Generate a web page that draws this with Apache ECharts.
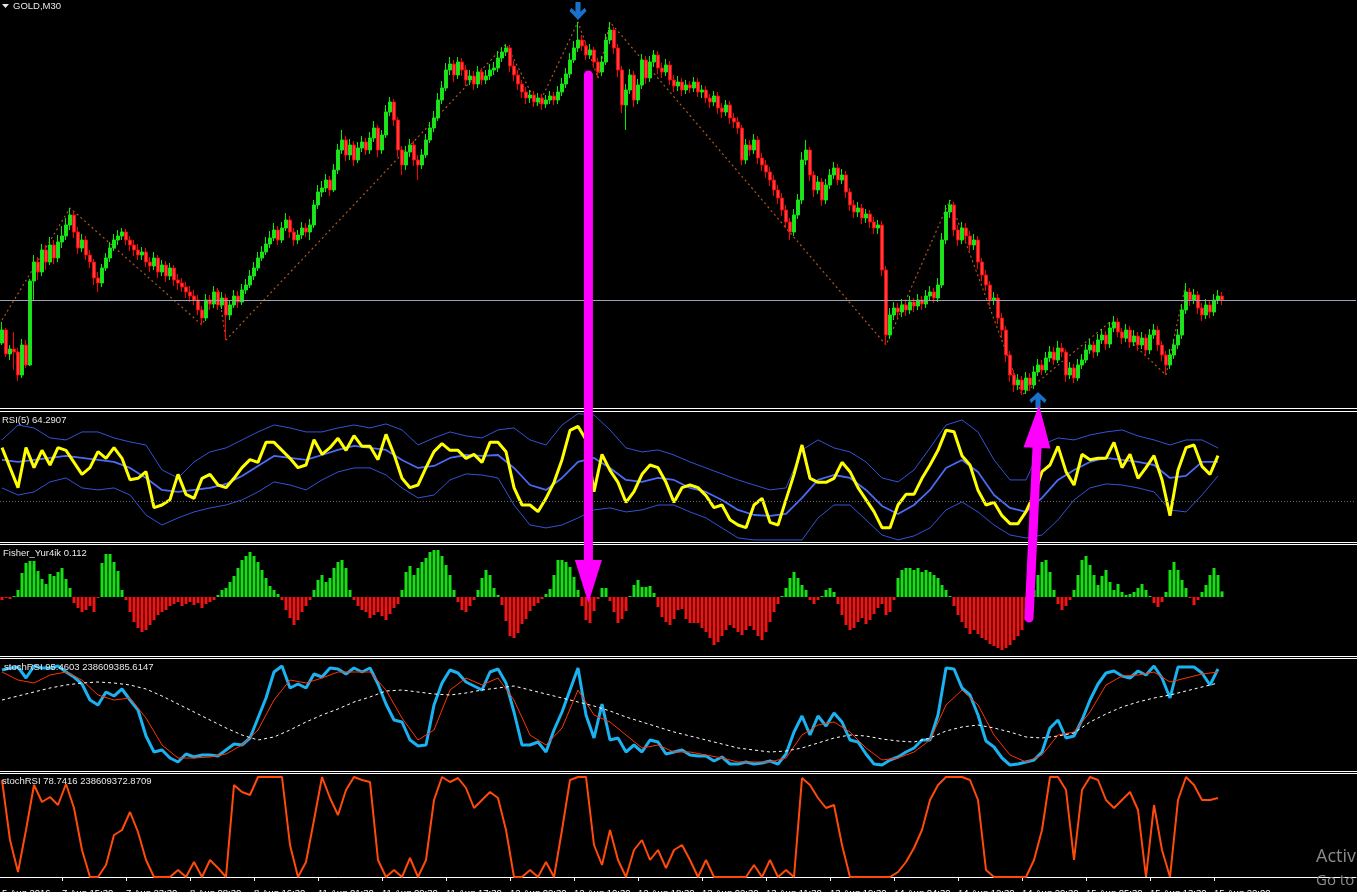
<!DOCTYPE html>
<html><head><meta charset="utf-8">
<script src="https://cdn.jsdelivr.net/npm/echarts/dist/echarts.min.js"></script>
<style>html,body{margin:0;padding:0;background:#000;overflow:hidden}#c{width:1357px;height:892px}</style>
</head><body><div id="c"></div>
<script>
// ---------------- DATA ----------------
const symbolTitle = 'GOLD,M30';
const rsiTitle = 'RSI(5) 64.2907';
const fisherTitle = 'Fisher_Yur4ik 0.112';
const stoch1Title = 'stochRSI 95.4603 238609385.6147';
const stoch2Title = 'stochRSI 78.7416 238609372.8709';

const tickIdx = [0,15,31,47,63,79,95,111,127,143,159,175,191,207,223,239,255,271,287,303];
const tickLabels = ['5 Aug 2016','7 Aug 15:30','7 Aug 23:30','8 Aug 08:30','8 Aug 16:30','11 Aug 01:30','11 Aug 09:30','11 Aug 17:30','12 Aug 02:30','12 Aug 10:30','12 Aug 18:30','13 Aug 02:30','13 Aug 11:30','13 Aug 19:30','14 Aug 04:30','14 Aug 12:30','14 Aug 20:30','15 Aug 05:30','15 Aug 13:30','15 Aug 22:00'];

const opens = [1345.7,1347.0,1344.6,1345.1,1344.8,1342.5,1345.5,1343.5,1351.9,1353.8,
1352.8,1355.0,1353.8,1355.5,1354.2,1355.8,1356.4,1357.5,1358.5,1356.8,
1355.2,1356.0,1354.5,1353.8,1352.2,1351.7,1353.2,1354.2,1355.2,1356.0,
1356.4,1356.8,1356.0,1355.5,1355.0,1354.5,1354.8,1353.8,1353.4,1354.2,
1352.8,1353.5,1352.4,1353.2,1352.0,1351.7,1351.3,1350.8,1350.4,1350.0,
1349.0,1348.2,1350.0,1349.6,1350.8,1349.5,1350.2,1348.5,1349.5,1350.4,
1349.8,1351.0,1351.5,1352.4,1353.2,1354.2,1354.8,1355.6,1356.2,1357.0,
1356.0,1357.2,1358.0,1356.8,1356.0,1356.5,1357.2,1356.8,1357.5,1359.5,
1360.8,1361.2,1362.0,1361.0,1363.0,1365.0,1366.0,1364.5,1365.5,1364.0,
1365.2,1365.8,1365.0,1366.2,1367.2,1365.0,1366.5,1368.8,1369.8,1368.0,
1365.0,1363.5,1364.8,1365.5,1364.0,1363.5,1364.5,1366.0,1367.2,1368.2,
1370.0,1371.2,1373.0,1373.6,1372.5,1373.8,1373.0,1372.0,1372.4,1371.6,
1372.8,1372.0,1372.4,1373.0,1373.2,1374.2,1374.8,1375.2,1373.4,1372.5,
1371.6,1370.8,1370.2,1370.5,1369.8,1370.2,1369.6,1370.0,1370.4,1370.0,
1370.8,1371.6,1372.6,1374.0,1375.2,1376.0,1375.4,1374.5,1375.0,1373.8,
1372.8,1373.8,1376.0,1377.0,1375.2,1373.0,1369.5,1371.0,1372.5,1370.0,
1371.5,1374.0,1372.2,1373.8,1374.5,1373.2,1372.8,1373.5,1372.0,1371.4,
1371.8,1371.0,1371.5,1371.2,1371.8,1370.8,1371.0,1370.2,1369.8,1370.4,
1369.2,1368.8,1369.5,1368.2,1367.8,1367.2,1364.0,1365.5,1365.0,1366.0,
1364.2,1363.5,1362.8,1362.0,1361.0,1360.2,1359.0,1357.8,1356.8,1358.5,
1360.0,1364.0,1365.0,1362.5,1361.0,1361.8,1360.0,1361.5,1362.5,1363.2,
1362.0,1362.5,1360.8,1359.5,1358.8,1359.2,1358.2,1358.6,1357.8,1357.2,
1357.5,1353.0,1346.5,1348.5,1349.2,1348.8,1349.5,1349.0,1349.8,1349.4,
1350.0,1349.6,1350.4,1350.8,1350.2,1351.5,1356.0,1358.8,1359.5,1357.0,
1356.0,1357.2,1356.4,1355.5,1356.0,1353.8,1352.5,1351.5,1350.0,1350.2,
1348.2,1347.0,1344.5,1342.5,1341.5,1342.0,1341.0,1342.2,1341.5,1342.8,
1343.5,1343.0,1344.2,1344.8,1344.0,1345.2,1344.8,1342.5,1343.2,1342.2,
1343.5,1344.0,1345.0,1345.5,1344.8,1346.0,1346.5,1345.6,1347.2,1347.8,
1346.8,1346.2,1347.0,1345.8,1346.4,1345.5,1346.2,1345.0,1346.5,1347.0,
1345.5,1344.5,1343.5,1344.5,1345.5,1346.5,1349.0,1350.8,1350.0,1350.5,
1349.2,1348.5,1349.5,1348.8,1350.0,1350.4];

const closes = [1347.0,1344.6,1345.1,1344.8,1342.5,1345.5,1343.5,1351.9,1353.8,1352.8,
1355.0,1353.8,1355.5,1354.2,1355.8,1356.4,1357.5,1358.5,1356.8,1355.2,
1356.0,1354.5,1353.8,1352.2,1351.7,1353.2,1354.2,1355.2,1356.0,1356.4,
1356.8,1356.0,1355.5,1355.0,1354.5,1354.8,1353.8,1353.4,1354.2,1352.8,
1353.5,1352.4,1353.2,1352.0,1351.7,1351.3,1350.8,1350.4,1350.0,1349.0,
1348.2,1350.0,1349.6,1350.8,1349.5,1350.2,1348.5,1349.5,1350.4,1349.8,
1351.0,1351.5,1352.4,1353.2,1354.2,1354.8,1355.6,1356.2,1357.0,1356.0,
1357.2,1358.0,1356.8,1356.0,1356.5,1357.2,1356.8,1357.5,1359.5,1360.8,
1361.2,1362.0,1361.0,1363.0,1365.0,1366.0,1364.5,1365.5,1364.0,1365.2,
1365.8,1365.0,1366.2,1367.2,1365.0,1366.5,1368.8,1369.8,1368.0,1365.0,
1363.5,1364.8,1365.5,1364.0,1363.5,1364.5,1366.0,1367.2,1368.2,1370.0,
1371.2,1373.0,1373.6,1372.5,1373.8,1373.0,1372.0,1372.4,1371.6,1372.8,
1372.0,1372.4,1373.0,1373.2,1374.2,1374.8,1375.2,1373.4,1372.5,1371.6,
1370.8,1370.2,1370.5,1369.8,1370.2,1369.6,1370.0,1370.4,1370.0,1370.8,
1371.6,1372.6,1374.0,1375.2,1376.0,1375.4,1374.5,1375.0,1373.8,1372.8,
1373.8,1376.0,1377.0,1375.2,1373.0,1369.5,1371.0,1372.5,1370.0,1371.5,
1374.0,1372.2,1373.8,1374.5,1373.2,1372.8,1373.5,1372.0,1371.4,1371.8,
1371.0,1371.5,1371.2,1371.8,1370.8,1371.0,1370.2,1369.8,1370.4,1369.2,
1368.8,1369.5,1368.2,1367.8,1367.2,1364.0,1365.5,1365.0,1366.0,1364.2,
1363.5,1362.8,1362.0,1361.0,1360.2,1359.0,1357.8,1356.8,1358.5,1360.0,
1364.0,1365.0,1362.5,1361.0,1361.8,1360.0,1361.5,1362.5,1363.2,1362.0,
1362.5,1360.8,1359.5,1358.8,1359.2,1358.2,1358.6,1357.8,1357.2,1357.5,
1353.0,1346.5,1348.5,1349.2,1348.8,1349.5,1349.0,1349.8,1349.4,1350.0,
1349.6,1350.4,1350.8,1350.2,1351.5,1356.0,1358.8,1359.5,1357.0,1356.0,
1357.2,1356.4,1355.5,1356.0,1353.8,1352.5,1351.5,1350.0,1350.2,1348.2,
1347.0,1344.5,1342.5,1341.5,1342.0,1341.0,1342.2,1341.5,1342.8,1343.5,
1343.0,1344.2,1344.8,1344.0,1345.2,1344.8,1342.5,1343.2,1342.2,1343.5,
1344.0,1345.0,1345.5,1344.8,1346.0,1346.5,1345.6,1347.2,1347.8,1346.8,
1346.2,1347.0,1345.8,1346.4,1345.5,1346.2,1345.0,1346.5,1347.0,1345.5,
1344.5,1343.5,1344.5,1345.5,1346.5,1349.0,1350.8,1350.0,1350.5,1349.2,
1348.5,1349.5,1348.8,1350.0,1350.4,1350.0];

const highs = [1347.8,1347.2,1345.5,1346.8,1345.2,1346.1,1346.0,1352.1,1354.5,1354.3,
1355.6,1355.5,1356.3,1356.0,1356.5,1357.4,1358.2,1359.2,1358.9,1357.3,
1356.6,1356.4,1355.0,1354.1,1352.8,1353.6,1354.7,1355.8,1356.6,1357.0,
1357.2,1357.1,1356.4,1356.0,1355.6,1355.3,1355.2,1354.3,1354.8,1354.5,
1354.0,1353.9,1353.7,1353.5,1352.6,1352.2,1351.8,1351.4,1351.0,1350.5,
1349.4,1350.6,1350.5,1351.4,1351.2,1350.8,1350.6,1350.0,1351.0,1350.9,
1351.6,1352.1,1353.0,1353.8,1354.8,1355.4,1356.3,1356.9,1357.7,1357.4,
1357.8,1358.7,1358.4,1357.2,1357.0,1357.8,1357.7,1358.1,1360.0,1361.5,
1361.9,1362.6,1362.4,1363.6,1365.6,1367.0,1366.4,1366.1,1365.9,1365.8,
1366.4,1366.2,1366.8,1367.9,1367.5,1367.0,1369.5,1370.3,1370.1,1368.3,
1365.4,1365.4,1366.1,1365.9,1364.5,1365.1,1366.6,1367.8,1368.9,1370.7,
1371.9,1373.7,1374.3,1374.0,1374.3,1374.2,1373.5,1373.0,1372.9,1373.4,
1373.2,1373.0,1373.6,1373.8,1374.9,1375.3,1375.6,1375.5,1373.9,1373.0,
1372.0,1371.3,1371.0,1370.9,1370.7,1370.6,1370.5,1370.9,1370.8,1371.4,
1372.2,1373.2,1374.7,1375.9,1377.8,1376.5,1375.8,1375.6,1375.3,1374.2,
1374.4,1376.6,1377.8,1377.3,1375.6,1373.4,1371.6,1373.1,1372.9,1372.1,
1374.6,1374.4,1374.4,1375.0,1374.9,1373.7,1374.1,1373.9,1372.5,1372.4,
1372.2,1372.0,1371.9,1372.3,1372.2,1371.5,1371.4,1370.6,1370.9,1370.8,
1369.7,1370.0,1369.9,1368.7,1368.3,1367.5,1366.1,1366.0,1366.6,1366.4,
1364.7,1364.0,1363.3,1362.5,1361.5,1360.7,1359.5,1358.2,1359.1,1360.6,
1364.8,1366.0,1365.3,1362.9,1362.4,1362.2,1362.1,1363.1,1363.8,1363.6,
1363.1,1362.9,1361.2,1360.0,1359.8,1359.6,1359.1,1359.0,1358.3,1358.0,
1357.9,1353.4,1349.2,1349.8,1349.7,1350.1,1349.9,1350.4,1350.2,1350.6,
1350.4,1351.0,1351.4,1351.2,1352.2,1356.7,1359.5,1360.0,1359.8,1357.5,
1357.8,1357.7,1356.9,1356.6,1356.4,1354.2,1353.0,1351.9,1350.8,1350.6,
1348.7,1347.4,1344.9,1343.0,1342.6,1342.4,1342.8,1342.7,1343.4,1344.1,
1344.0,1344.8,1345.4,1345.3,1345.9,1345.7,1345.1,1343.8,1343.6,1344.1,
1344.6,1345.6,1346.1,1345.9,1346.6,1347.1,1346.9,1347.8,1348.4,1348.2,
1347.2,1347.6,1347.4,1347.0,1346.8,1346.8,1346.6,1347.1,1347.6,1347.4,
1345.9,1344.9,1345.1,1346.1,1347.1,1349.6,1351.7,1351.2,1351.1,1350.9,
1349.7,1350.1,1349.9,1350.6,1351.0,1350.8];

const lows = [1345.5,1344.3,1344.0,1343.0,1341.9,1342.2,1343.2,1343.4,1350.0,1352.0,
1352.4,1353.0,1353.5,1353.6,1353.8,1355.2,1356.0,1357.0,1356.2,1354.6,
1354.8,1354.0,1353.2,1351.5,1350.8,1351.3,1352.9,1353.8,1354.9,1355.5,
1356.0,1355.5,1354.9,1354.4,1354.0,1354.0,1353.3,1352.8,1353.0,1352.2,
1352.4,1351.8,1352.0,1351.4,1351.0,1350.8,1350.2,1349.8,1349.5,1348.5,
1347.5,1347.9,1349.0,1349.2,1349.0,1349.1,1346.0,1348.0,1349.2,1349.2,
1349.5,1350.6,1351.2,1352.0,1352.9,1353.9,1354.5,1355.2,1355.9,1355.5,
1355.7,1356.9,1356.2,1355.4,1355.6,1356.1,1356.3,1356.0,1357.2,1359.1,
1360.3,1360.8,1360.4,1360.8,1362.6,1364.6,1363.9,1364.0,1363.4,1363.7,
1364.8,1364.5,1364.6,1365.8,1364.3,1364.6,1366.2,1368.4,1367.4,1364.3,
1362.5,1363.0,1364.3,1363.4,1362.0,1363.1,1364.2,1365.7,1366.8,1367.9,
1369.6,1370.9,1372.5,1371.8,1372.1,1372.4,1371.4,1371.5,1371.0,1371.2,
1371.5,1371.6,1372.0,1372.5,1372.8,1373.8,1374.4,1372.8,1371.9,1371.0,
1370.2,1369.6,1369.7,1369.3,1369.4,1369.0,1369.2,1369.6,1369.5,1369.6,
1370.4,1371.2,1372.2,1373.7,1374.8,1374.9,1374.0,1374.1,1373.2,1372.2,
1372.4,1373.5,1375.6,1374.6,1372.3,1368.7,1367.0,1370.6,1369.3,1369.6,
1371.1,1371.6,1371.8,1373.3,1372.6,1372.2,1372.4,1371.5,1370.8,1370.9,
1370.4,1370.6,1370.7,1370.8,1370.3,1370.2,1369.7,1369.2,1369.4,1368.6,
1368.2,1368.4,1367.6,1367.2,1366.6,1363.5,1363.6,1364.4,1364.6,1363.6,
1362.9,1362.2,1361.4,1360.4,1359.6,1358.4,1357.2,1356.0,1356.4,1358.1,
1359.6,1363.5,1361.9,1360.3,1360.6,1359.4,1359.6,1361.1,1362.1,1361.5,
1361.6,1360.2,1358.9,1358.2,1358.3,1357.6,1357.7,1357.2,1356.6,1356.6,
1352.4,1345.5,1346.1,1348.0,1348.2,1348.3,1348.4,1348.6,1348.8,1349.0,
1349.0,1349.2,1350.0,1349.7,1349.8,1351.2,1355.6,1358.2,1356.4,1355.4,
1355.6,1355.8,1354.9,1355.0,1353.1,1351.9,1350.9,1349.4,1349.5,1347.6,
1346.2,1343.8,1341.8,1340.8,1341.0,1340.5,1340.6,1340.9,1341.1,1342.4,
1342.5,1342.7,1343.8,1343.5,1343.7,1344.3,1341.8,1342.1,1341.7,1341.9,
1343.1,1343.7,1344.6,1344.2,1344.4,1345.6,1345.0,1345.2,1346.8,1346.3,
1345.6,1345.8,1345.2,1345.4,1344.9,1345.1,1344.4,1344.6,1346.1,1344.9,
1343.9,1342.5,1343.1,1344.1,1345.1,1346.1,1348.6,1349.4,1349.6,1348.6,
1347.9,1348.1,1348.2,1348.4,1349.6,1349.5];

// ZigZag vertices (bar index, price)
const zigzagIdx = [0,17,50,54,56,126,134,144,149,152,221,237,255,277,291,296];
const zigzagVal = [1348.0,1359.2,1347.5,1351.2,1346.0,1375.6,1369.4,1377.8,1372.2,1377.8,1345.5,1360.0,1340.5,1347.8,1342.5,1351.7];
// signal arrows (bar index)
const sellArrowIdx = [144];
const buyArrowIdx = [259];

// RSI(5), read every 2nd bar
const rsiStep = 2;
const rsiVals = [70,55,40,70,55,68,57,70,68,59,50,55,67,62,70,62,46,47,52,25,
27,31,50,35,32,47,50,42,40,47,55,61,59,74,74,68,62,55,57,76,
65,70,77,68,79,71,71,61,80,65,47,40,42,55,67,73,68,68,62,65,
59,74,74,67,40,27,27,22,32,44,61,83,86,76,37,65,53,44,29,37,
50,57,55,44,29,40,42,40,34,25,27,16,12,10,27,32,14,12,31,50,
72,47,44,44,47,59,52,40,31,22,10,10,27,35,35,47,57,68,83,82,
64,57,38,27,29,19,13,13,22,35,52,57,71,52,42,65,61,62,62,74,
55,65,47,55,64,46,19,53,70,72,56,50,64];
const rsiLevel = 30;
// RSI bands, read every 4th bar
const bandStep = 4;
const rsiMid = [60.8,59.3,60.8,62.3,63.8,62.3,60.8,59.3,54.8,47.3,38.3,36.8,38.3,39.8,42.8,48.8,56.3,63.8,62.3,60.8,
64.5,68.3,71.3,69.8,68.3,60.8,54.8,56.3,62.3,64.5,63.8,64.5,54.8,42,38.3,47.3,59.3,62.3,54.8,45.8,
44.3,47.3,45.8,39.8,36.8,30.8,23.3,19.5,18.8,20.3,32.3,45.8,49.5,47.3,38.3,26.3,20.3,27,38.3,54.8,
60.8,51.8,34.5,24.8,21.8,32.3,45.8,53.3,59.3,62.3,60.8,59.3,57,47.3,48.8,59.3,59.3];
const rsiUpper = [75.8,87,84.8,77.3,75.8,81.8,81.8,77.3,74.3,72,53.3,47.3,59.3,66.8,69.8,75.8,81.8,87,84.8,81.8,
81.8,84.8,87,84.8,87.8,83.3,72,77.3,81.8,78.8,77.3,83.3,84.8,75.8,72,87,95.5,94.5,83.3,69.8,
66.8,68.3,64.5,59.3,54.8,50.3,45.8,42,38.3,39.8,68.3,75.8,69.8,66.8,59.3,47.3,44.3,53.3,69.8,87,
90.8,81.8,60.8,45.8,45.8,72,77.3,75.8,79.5,81.8,83.3,78.8,75.8,72,75.8,75.8,69.8];
const rsiLower = [39.8,34.5,36.8,44.3,47.3,39.8,38.3,39.8,34.5,19.5,12,17.3,21.8,24.8,27,30.8,36.8,44.3,42,38.3,
45.8,51.8,54.8,54.8,49.5,39.8,32.3,34.5,45.8,50.3,49.5,47.3,27,12,9.8,12,17.3,23.3,24.8,21.8,
23.3,27,27,21.8,17.3,9.8,2.3,0.8,0.8,0.8,0.8,17.3,27,27,15.8,4.5,0.8,3.8,9.8,23.3,
29.3,21.8,12,4.5,2.3,4.5,15.8,30.8,39.8,42.8,42,39.8,36.8,23.3,21.8,34.5,48.8];

// Fisher_Yur4ik histogram, every bar
const fisherVals = [-0.06,-0.02,-0.04,0.02,0.14,0.48,0.68,0.72,0.72,0.52,
0.36,0.26,0.46,0.42,0.5,0.58,0.36,0.18,-0.12,-0.22,
-0.3,-0.26,-0.18,-0.3,-0.02,0.68,0.86,0.86,0.7,0.52,
0.14,-0.06,-0.3,-0.5,-0.62,-0.7,-0.66,-0.56,-0.46,-0.36,
-0.3,-0.26,-0.18,-0.14,-0.1,-0.18,-0.14,-0.1,-0.16,-0.12,
-0.22,-0.14,-0.1,-0.06,0.04,0.14,0.18,0.3,0.42,0.58,
0.74,0.82,0.9,0.82,0.7,0.54,0.38,0.22,0.14,0.06,
-0.06,-0.26,-0.42,-0.56,-0.46,-0.3,-0.18,-0.06,0.14,0.34,
0.44,0.3,0.38,0.58,0.7,0.74,0.58,0.14,-0.06,-0.18,
-0.26,-0.3,-0.42,-0.36,-0.3,-0.38,-0.46,-0.34,-0.22,-0.14,
0.14,0.5,0.62,0.44,0.58,0.7,0.78,0.9,0.94,0.94,
0.82,0.64,0.44,0.14,-0.1,-0.26,-0.3,-0.18,-0.06,0.14,
0.38,0.54,0.44,0.18,0.04,-0.16,-0.48,-0.78,-0.82,-0.72,
-0.54,-0.44,-0.28,-0.18,-0.12,-0.04,0.06,0.16,0.44,0.74,
0.74,0.7,0.6,0.4,0.14,-0.18,-0.46,-0.52,-0.28,-0.04,
0.18,0.18,-0.08,-0.3,-0.52,-0.44,-0.28,0.02,0.24,0.34,
0.2,0.2,0.22,0.08,-0.2,-0.4,-0.5,-0.56,-0.44,-0.26,
-0.24,-0.44,-0.52,-0.52,-0.52,-0.62,-0.7,-0.82,-0.96,-0.9,
-0.78,-0.66,-0.56,-0.62,-0.7,-0.76,-0.66,-0.58,-0.66,-0.78,
-0.86,-0.7,-0.5,-0.3,-0.14,0.02,0.18,0.38,0.5,0.38,
0.24,0.14,-0.06,-0.14,-0.06,0.02,0.14,0.18,0.1,-0.14,
-0.36,-0.56,-0.66,-0.62,-0.5,-0.42,-0.54,-0.46,-0.34,-0.22,
-0.14,-0.36,-0.3,-0.06,0.38,0.54,0.58,0.58,0.54,0.58,
0.5,0.54,0.5,0.44,0.38,0.24,0.14,0.02,-0.18,-0.36,
-0.5,-0.62,-0.74,-0.66,-0.74,-0.82,-0.86,-0.94,-0.98,-1.02,
-1.06,-1.02,-0.96,-0.86,-0.78,-0.66,-0.46,-0.16,0.14,0.44,
0.7,0.74,0.5,0.14,-0.14,-0.26,-0.18,-0.06,0.14,0.44,
0.74,0.82,0.64,0.44,0.24,0.42,0.54,0.3,0.14,0.26,
0.1,0.04,0.06,0.1,0.18,0.26,0.14,0.02,-0.12,-0.2,
-0.1,0.1,0.54,0.7,0.54,0.34,0.18,-0.02,-0.16,-0.06,
0.1,0.24,0.44,0.58,0.44,0.112];

// stochRSI #1: main (every 2nd bar), signal and slow (every 4th bar)
const stochStep = 2;
const stochMain = [95,97,98,87,99,97,97,99,93,88,81,65,60,73,69,76,65,55,29,13,
15,7,3,11,8,10,10,9,15,21,20,27,47,67,93,99,77,81,77,91,
88,97,96,91,97,93,97,81,61,45,43,25,19,20,60,82,95,92,83,79,
75,93,96,82,53,20,20,23,13,35,53,75,97,50,27,61,25,27,13,20,
13,25,23,11,13,15,10,9,9,4,8,1,1,3,1,2,4,1,11,33,
49,30,49,39,52,43,25,23,11,1,0,5,8,13,17,25,25,50,97,96,
77,70,50,24,18,7,0,1,3,5,13,37,45,27,29,45,65,81,92,94,
89,87,94,90,99,87,67,98,98,98,92,80,96];
const stochSignal = [93,85,82,90,93,85,70,65,67,47,20,7,7,8,11,20,35,65,85,82,
87,93,93,93,75,47,25,35,75,87,80,87,65,30,20,37,75,50,43,30,
17,20,13,13,10,7,3,3,3,7,30,40,43,33,17,5,7,13,25,60,
75,60,30,10,3,10,30,33,53,80,89,90,93,83,87,91,93];
const stochSlow = [65,69,73,77,80,82,83,82,80,76,69,61,53,45,37,30,25,28,35,43,
50,56,63,68,74,75,73,71,70,72,75,77,79,75,71,67,63,59,54,48,
43,38,33,29,25,21,17,15,13,14,17,22,27,30,29,26,24,23,27,34,
38,40,37,33,28,27,29,32,43,51,58,63,67,70,74,78,82];
// stochRSI #2 (every 2nd bar)
const stoch2Vals = [97,37,5,47,92,75,80,72,93,69,27,0,0,12,42,47,65,45,17,0,
0,0,7,0,15,0,17,9,0,92,85,82,100,100,100,100,32,0,15,57,
100,79,62,87,100,97,95,17,0,7,0,19,0,17,77,100,95,99,89,69,
77,85,79,47,0,0,7,0,15,0,47,97,100,100,32,12,47,17,0,27,
37,17,27,9,27,32,17,0,17,0,0,0,0,0,12,0,17,0,7,0,
99,92,79,69,72,32,0,0,0,0,0,0,5,15,29,47,77,92,100,100,
100,97,77,7,0,0,0,0,0,17,47,100,100,87,17,87,100,97,77,69,
77,85,67,0,72,27,0,77,100,92,77,77,79];

// ---------------- CHART ----------------
const N = closes.length;
const SLOTS = 339;
const cats = Array.from({length: SLOTS}, (_, i) => String(i));
const labelMap = {};
tickIdx.forEach((t, j) => { labelMap[t] = tickLabels[j]; });

function sparse(vals, step) {
  const a = new Array(N).fill(null);
  vals.forEach((v, k) => { a[k * step] = v; });
  return a;
}
const zigzagData = new Array(N).fill(null);
zigzagIdx.forEach((t, j) => { zigzagData[t] = zigzagVal[j]; });
const candles = closes.map((c, i) => [opens[i], c, lows[i], highs[i]]);

const FONT = 'Liberation Sans';
const grids = [
  {left: 0, right: 1, top: 0, height: 408},
  {left: 0, right: 1, top: 413, height: 128},
  {left: 0, right: 1, top: 545, height: 110},
  {left: 0, right: 1, top: 659, height: 110},
  {left: 0, right: 1, top: 774, height: 112}
].map(g => Object.assign(g, {containLabel: false, outerBoundsMode: 'none'}));
const yRanges = [[1339.2, 1380], [0, 96], [-1.16, 1.04], [-4, 106], [-9, 103]];

const xAxes = grids.map((g, k) => {
  const ax = {type: 'category', gridIndex: k, data: cats, boundaryGap: true, show: k === 4,
    axisLine: {show: false}, axisTick: {show: false}, axisLabel: {show: false}, splitLine: {show: false}};
  if (k === 4) {
    ax.axisLine = {show: true, lineStyle: {color: '#ffffff', width: 1}};
    ax.axisTick = {show: true, alignWithLabel: true, length: 4, lineStyle: {color: '#ffffff'},
      interval: (i) => labelMap[i] !== undefined && i !== 0};
    ax.axisLabel = {show: true, interval: 0, color: '#ffffff', fontFamily: FONT, fontSize: 9.5,
      align: 'left', margin: 2, formatter: (v, i) => labelMap[i] || ''};
  }
  return ax;
});
const yAxes = yRanges.map((r, k) => ({type: 'value', gridIndex: k, min: r[0], max: r[1], show: false, splitLine: {show: false}}));

const downArrowPath = 'path://M3.5,0 H6.5 V6 L9,3.5 L10,5.5 L5,11 L0,5.5 L1,3.5 L3.5,6 Z';

const series = [
  {type: 'candlestick', xAxisIndex: 0, yAxisIndex: 0, data: candles, barWidth: 3,
    itemStyle: {color: '#36d236', borderColor: '#00f000', color0: '#e04a4a', borderColor0: '#ff0000', borderWidth: 1},
    markLine: {silent: true, symbol: 'none', label: {show: false}, animation: false,
      lineStyle: {color: '#9aa3b5', width: 1, type: 'solid'}, data: [{yAxis: closes[N - 1]}]}},
  {type: 'line', xAxisIndex: 0, yAxisIndex: 0, data: zigzagData, connectNulls: true, showSymbol: false,
    lineStyle: {color: '#b0581e', width: 1.2, type: [2, 3]}, z: 1},
  {type: 'scatter', xAxisIndex: 0, yAxisIndex: 0, data: sellArrowIdx.map(i => [i, highs[i]]),
    symbol: downArrowPath, symbolSize: [17, 18], symbolOffset: [0, -11], itemStyle: {color: '#1e8fff'}, z: 5},
  {type: 'scatter', xAxisIndex: 0, yAxisIndex: 0, data: buyArrowIdx.map(i => [i, lows[i]]),
    symbol: downArrowPath, symbolRotate: 180, symbolSize: [17, 16], symbolOffset: [0, 24], itemStyle: {color: '#1e8fff'}, z: 5},
  // RSI panel
  {type: 'line', xAxisIndex: 1, yAxisIndex: 1, data: sparse(rsiUpper, bandStep), connectNulls: true, showSymbol: false,
    lineStyle: {color: '#3452d6', width: 1},
    markLine: {silent: true, symbol: 'none', label: {show: false}, animation: false,
      lineStyle: {color: '#6a6a6a', width: 1, type: [1, 2]}, data: [{yAxis: rsiLevel}]}},
  {type: 'line', xAxisIndex: 1, yAxisIndex: 1, data: sparse(rsiLower, bandStep), connectNulls: true, showSymbol: false,
    lineStyle: {color: '#3452d6', width: 1}},
  {type: 'line', xAxisIndex: 1, yAxisIndex: 1, data: sparse(rsiMid, bandStep), connectNulls: true, showSymbol: false,
    lineStyle: {color: '#4a6cf5', width: 1.8}},
  {type: 'line', xAxisIndex: 1, yAxisIndex: 1, data: sparse(rsiVals, rsiStep), connectNulls: true, showSymbol: false,
    lineStyle: {color: '#ffff00', width: 3}, z: 4},
  // Fisher
  {type: 'bar', xAxisIndex: 2, yAxisIndex: 2, data: fisherVals, barWidth: 3,
    itemStyle: {color: (p) => p.value >= 0 ? '#14e014' : '#f01414'}},
  // stochRSI 1
  {type: 'line', xAxisIndex: 3, yAxisIndex: 3, data: sparse(stochMain, stochStep), connectNulls: true, showSymbol: false,
    lineStyle: {color: '#1ab2f0', width: 3}},
  {type: 'line', xAxisIndex: 3, yAxisIndex: 3, data: sparse(stochSignal, bandStep), connectNulls: true, showSymbol: false,
    lineStyle: {color: '#ff3300', width: 1}},
  {type: 'line', xAxisIndex: 3, yAxisIndex: 3, data: sparse(stochSlow, bandStep), connectNulls: true, showSymbol: false,
    lineStyle: {color: '#ffffff', width: 1, type: [3, 3]}},
  // stochRSI 2
  {type: 'line', xAxisIndex: 4, yAxisIndex: 4, data: sparse(stoch2Vals, stochStep), connectNulls: true, showSymbol: false,
    lineStyle: {color: '#ff4a0a', width: 2}}
];

const chart = echarts.init(document.getElementById('c'), null, {renderer: 'canvas'});
chart.setOption({
  animation: false,
  backgroundColor: '#000000',
  grid: grids, xAxis: xAxes, yAxis: yAxes, series: series
});

// ---------- overlays: separators, titles, annotation arrows ----------
function px(g, fidx, val) {
  const i0 = Math.floor(fidx), f = fidx - i0;
  const a = chart.convertToPixel({xAxisIndex: g, yAxisIndex: g}, [i0, val]);
  const b = chart.convertToPixel({xAxisIndex: g, yAxisIndex: g}, [i0 + 1, val]);
  return [a[0] + (b[0] - a[0]) * f, a[1]];
}
function arrow(tail, tip, headLen, headHalf) {
  const dx = tip[0] - tail[0], dy = tip[1] - tail[1];
  const L = Math.hypot(dx, dy), ux = dx / L, uy = dy / L;
  const bx = tip[0] - ux * headLen, by = tip[1] - uy * headLen;
  const nx = -uy, ny = ux;
  return [
    {type: 'line', z: 100, shape: {x1: tail[0], y1: tail[1], x2: bx + ux * 2, y2: by + uy * 2},
      style: {stroke: '#ff00ff', lineWidth: 9, lineCap: 'round'}},
    {type: 'polygon', z: 100, shape: {points: [tip, [bx + nx * headHalf, by + ny * headHalf], [bx - nx * headHalf, by - ny * headHalf]]},
      style: {fill: '#ff00ff'}}
  ];
}
// annotation arrows: [grid, bar, value] of tail and tip
const annoArrows = [
  {tail: [0, 146.6, 1372.5], tip: [2, 146.6, -0.12]},
  {tail: [2, 256.75, -0.42], tip: [0, 259.25, 1339.5]}
];

const W = 1357;
const sepY = [408, 411, 542, 544, 656, 658, 771, 773];
const gfx = [];
sepY.forEach(y => gfx.push({type: 'rect', z: 50, shape: {x: 0, y: y, width: W, height: 1}, style: {fill: '#ffffff'}}));
const txt = (x, y, s, size, color, font) => ({type: 'text', z: 60, x: x, y: y,
  style: {text: s, fill: color || '#e8e8e8', font: (size || 9.5) + 'px "' + (font || FONT) + '"', textVerticalAlign: 'top'}});
gfx.push({type: 'polygon', z: 60, shape: {points: [[2, 4], [9, 4], [5.5, 8]]}, style: {fill: '#e8e8e8'}});
gfx.push(txt(13, 1, symbolTitle));
gfx.push(txt(2, 415, rsiTitle));
gfx.push(txt(3, 548, fisherTitle));
gfx.push(txt(4, 662, stoch1Title));
gfx.push(txt(2, 776, stoch2Title));
gfx.push(txt(1316, 848, 'Activate Windows', 18, '#8a8a8a', 'Open Sans'));
gfx.push(txt(1316, 873, 'Go to Settings to activate Windows.', 15, '#8a8a8a', 'Open Sans'));
annoArrows.forEach(a => {
  const t0 = px(a.tail[0], a.tail[1], a.tail[2]);
  const t1 = px(a.tip[0], a.tip[1], a.tip[2]);
  arrow(t0, t1, 43, 13.5).forEach(e => gfx.push(e));
});
chart.setOption({graphic: gfx});
</script>
</body></html>
